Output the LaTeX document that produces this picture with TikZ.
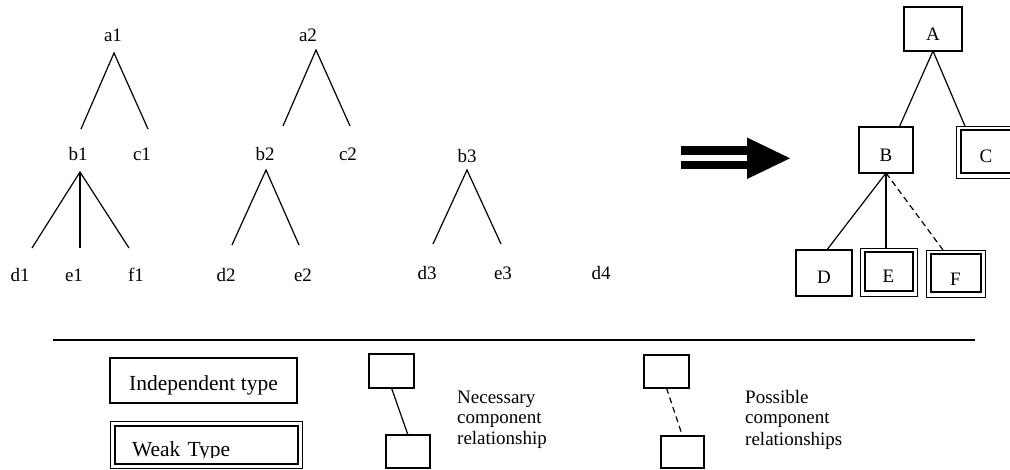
\documentclass[tikz,border=0pt]{standalone}
\usepackage{fontspec}
\setmainfont{Liberation Serif}
\begin{document}
\begin{tikzpicture}[x=1pt,y=-1pt,
  lbl/.style={inner sep=0pt, font=\fontsize{19}{21}\selectfont},
  lgd/.style={inner sep=0pt, anchor=base west, font=\fontsize{19}{21}\selectfont},
  edge/.style={line width=1.2pt},
  poss/.style={line width=1.2pt, dash pattern=on 6pt off 4pt},
  ibox/.style={draw, line width=1.2pt, outer sep=0pt, inner sep=0pt, anchor=base, font=\fontsize{19}{21}\selectfont},
  dbox/.style={ibox, line width=0.9pt, path picture={\draw[line width=2pt] ([xshift=4.5pt,yshift=-4.5pt]path picture bounding box.north west) rectangle ([xshift=-4.5pt,yshift=4.5pt]path picture bounding box.south east);}},
  sbox/.style={draw, line width=1.2pt, outer sep=0pt, inner sep=0pt}
]
\useasboundingbox (0,0) rectangle (1010,470);
\clip (0,0) rectangle (1010,470);

% ---------- tree 1 ----------
\node[lbl] (a1) at (113,35) {a1};
\node[lbl] (b1) at (78,154) {b1};
\node[lbl] (c1) at (142,154) {c1};
\node[lbl] (d1) at (20,275) {d1};
\node[lbl] (e1) at (74,275) {e1};
\node[lbl] (f1) at (136,275) {f1};
\coordinate (a1p) at (114,53);
\coordinate (b1t) at (81,129);
\coordinate (c1t) at (148,129);
\coordinate (b1p) at (80,172);
\coordinate (d1t) at (32,248);
\coordinate (e1t) at (80,248);
\coordinate (f1t) at (129,248);
\draw[edge] (b1t) -- (a1p) -- (c1t);
\draw[edge] (d1t) -- (b1p) -- (f1t);
\draw[edge] (b1p) -- (e1t);

% ---------- tree 2 ----------
\node[lbl] (a2) at (308,35) {a2};
\node[lbl] (b2) at (265,154) {b2};
\node[lbl] (c2) at (348,154) {c2};
\node[lbl] (d2) at (226,275) {d2};
\node[lbl] (e2) at (303,275) {e2};
\coordinate (a2p) at (316,50);
\coordinate (b2t) at (283,126);
\coordinate (c2t) at (350,126);
\coordinate (b2p) at (266,170);
\coordinate (d2t) at (232,245);
\coordinate (e2t) at (299,245);
\draw[edge] (b2t) -- (a2p) -- (c2t);
\draw[edge] (d2t) -- (b2p) -- (e2t);

% ---------- tree 3 ----------
\node[lbl] (b3) at (467,156) {b3};
\node[lbl] (d3) at (427,273) {d3};
\node[lbl] (e3) at (503,273) {e3};
\node[lbl] (d4) at (601,273) {d4};
\coordinate (b3p) at (467,170);
\coordinate (d3t) at (433,244);
\coordinate (e3t) at (501,244);
\draw[edge] (d3t) -- (b3p) -- (e3t);

% ---------- big arrow ----------
\fill (681,146.5) rectangle (748,155);
\fill (681,161.5) rectangle (748,169.5);
\fill (747,137.5) -- (790,158.3) -- (747,179) -- cycle;

% ---------- resulting type tree ----------
\node[ibox, minimum width=58pt, text height=34pt, text depth=10pt] (A) at (933,41) {A};
\node[ibox, minimum width=54pt, text height=35pt, text depth=11pt] (B) at (886,162) {B};
\node[dbox, minimum width=60pt, text height=37pt, text depth=15pt] (C) at (986,163) {C};
\node[ibox, minimum width=56pt, text height=34pt, text depth=12pt] (D) at (824,284) {D};
\begin{scope}
  \clip (0,0) -- (1010,0) -- (1010,470) -- (0,470) -- cycle
        (872,281.4) -- (872,290) -- (903,290) -- (903,281.4) -- cycle;
  \node[dbox, minimum width=57pt, text height=35pt, text depth=13pt] (E) at (888.5,283) {E};
\end{scope}
\node[dbox, minimum width=59pt, text height=36pt, text depth=11pt] (F) at (955.5,286) {F};
\draw[edge] (A.south) -- (B.60);
\draw[edge] (A.south) -- (C.129);
\draw[edge] (B.south) -- (D.83);
\draw[edge] (B.south) -- (B.south |- E.north);
\draw[poss] (B.south) -- (F.118);

% ---------- legend ----------
\coordinate (sepL) at (53,340);
\coordinate (sepR) at (975,340);
\draw[line width=1.2pt] (sepL) -- (sepR);

\node[ibox, font=\fontsize{21.5}{23}\selectfont, minimum width=187pt, text height=33pt, text depth=12pt] (indep) at (203.5,391) {Independent type};
\begin{scope}
  \clip (0,0) -- (1010,0) -- (1010,470) -- (0,470) -- cycle
        (125,457.0) -- (125,461.8) -- (250,461.8) -- (250,457.0) -- cycle;
  \node[dbox, anchor=north west, font=\fontsize{21.5}{23}\selectfont, inner xsep=22pt, text width=148pt, align=left, text height=35.5pt, text depth=11.5pt] (weak) at (110,421) {Weak Type};
\end{scope}

\node[sbox, minimum width=45pt, minimum height=34pt] (n1) at (391.5,371) {};
\node[sbox, minimum width=44pt, minimum height=33pt] (n2) at (408,451.5) {};
\draw[edge] (n1.south) -- (n2.north);
\node[lgd] (nt1) at (457,403) {Necessary};
\node[lgd] (nt2) at (457,423.5) {component};
\node[lgd] (nt3) at (457,444) {relationship};

\node[sbox, minimum width=45pt, minimum height=33pt] (p1) at (666.5,371.5) {};
\node[sbox, minimum width=43pt, minimum height=32pt] (p2) at (682.5,452) {};
\draw[poss] (p1.south) -- (p2.north);
\node[lgd] (pt1) at (745,403) {Possible};
\node[lgd] (pt2) at (745,424) {component};
\node[lgd] (pt3) at (745,445) {relationships};
\end{tikzpicture}
\end{document}
